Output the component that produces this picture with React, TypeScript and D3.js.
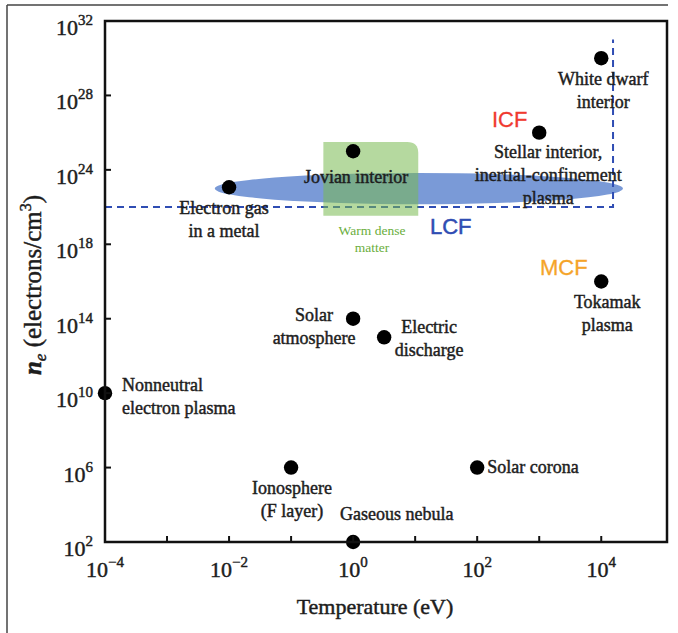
import React from "react";
import * as d3 from "d3";

// ---- data ----
const names = [
  "Electron gas", "Jovian interior", "White dwarf", "Stellar interior", "Tokamak",
  "Solar atmosphere", "Electric discharge", "Nonneutral", "Ionosphere", "Solar corona", "Gaseous nebula",
];
const temperatures = [1e-2, 1, 1e4, 1e3, 1e4, 1, Math.pow(10, 0.5), 1e-4, 1e-1, 1e2, 1];
const densityExp = [22.6, 25, 30, 26, 16, 14, 13, 10, 6, 6, 2];
const labelLines = [
  ["Electron gas", "in a metal"],
  ["Jovian interior"],
  ["White dwarf", "interior"],
  ["Stellar interior,", "inertial-confinement", "plasma"],
  ["Tokamak", "plasma"],
  ["Solar", "atmosphere"],
  ["Electric", "discharge"],
  ["Nonneutral", "electron plasma"],
  ["Ionosphere", "(F layer)"],
  ["Solar corona"],
  ["Gaseous nebula"],
];
const xTickExps = [-4, -3, -2, -1, 0, 1, 2, 3, 4];
const xLabelExps = [-4, -2, 0, 2, 4];
const yLabelExps = [2, 6, 10, 14, 18, 24, 28, 32];

// regions
const ellipseT = [Math.pow(10, -2.23), Math.pow(10, 4.35)];
const ellipseNeExp = [21.23, 23.75];
const wdmT = [Math.pow(10, -0.48), Math.pow(10, 1.05)];
const wdmNeExp = [20.3, 25.5];
const lcfT = Math.pow(10, 4.19);
const lcfNeExp = [21, 31];

// ---- layout (label placement relative to dot) ----
const labelLayout = [
  { dx: -5, dy: 27, anchor: "middle" },
  { dx: 3, dy: 32, anchor: "middle" },
  { dx: 2, dy: 27, anchor: "middle" },
  { dx: 9, dy: 25, anchor: "middle" },
  { dx: 6, dy: 26, anchor: "middle" },
  { dx: -39, dy: 2, anchor: "middle" },
  { dx: 45, dy: -4, anchor: "middle" },
  { dx: 17, dy: -2, anchor: "start" },
  { dx: 1, dy: 26, anchor: "middle" },
  { dx: 10, dy: 5, anchor: "start" },
  { dx: -13, dy: -22, anchor: "start" },
];

const W = 678, H = 633;
const L = 105, R = 667, T = 21, B = 542;
const serif = "'Liberation Serif', 'Times New Roman', serif";
const sans = "'Liberation Sans', Arial, sans-serif";
const ink = "#1d1d1d";

export default function App() {
  const x = d3.scaleLog().domain([1e-4, Math.pow(10, 5.06)]).range([L, R]);
  const yExp = d3
    .scaleLinear()
    .domain(yLabelExps)
    .range(yLabelExps.map((_, i) => B - (i * (B - T)) / (yLabelExps.length - 1)));

  const ex0 = x(ellipseT[0]), ex1 = x(ellipseT[1]);
  const ey0 = yExp(ellipseNeExp[1]), ey1 = yExp(ellipseNeExp[0]);
  const gx0 = x(wdmT[0]), gx1 = x(wdmT[1]);
  const gy0 = yExp(wdmNeExp[1]), gy1 = yExp(wdmNeExp[0]);
  const rr = 11;
  const greenPath = `M${gx0},${gy1} L${gx0},${gy0} L${gx1 - rr},${gy0} Q${gx1},${gy0} ${gx1},${gy0 + rr} L${gx1},${gy1} Z`;
  const lx = x(lcfT), ly0 = yExp(lcfNeExp[0]), ly1 = yExp(lcfNeExp[1]);

  const lineH = 23;
  const heavy = { stroke: ink, strokeWidth: 0.45 };

  return (
    <svg width={W} height={H} style={{ position: "absolute", left: 0, top: 0, background: "#fff" }}>
      {/* outer frame */}
      <line x1={7} y1={5} x2={7} y2={H} stroke="#444" strokeWidth={1.5} />
      <line x1={7} y1={5} x2={R + 1} y2={5} stroke="#444" strokeWidth={1.5} />

      {/* blue ellipse */}
      <ellipse cx={(ex0 + ex1) / 2} cy={(ey0 + ey1) / 2} rx={(ex1 - ex0) / 2} ry={(ey1 - ey0) / 2} fill="#6f91d4" opacity={0.92} />

      {/* LCF dashed boundary */}
      <path d={`M${L},${ly0} L${lx},${ly0} L${lx},${ly1}`} fill="none" stroke="#2f4db3" strokeWidth={2} strokeDasharray="7 5" />

      {/* warm dense matter box */}
      <path d={greenPath} fill="#78b950" opacity={0.55} />

      {/* region labels */}
      <text x={372} y={235} fontFamily={serif} fontSize={13.5} fill="#6aae3c" textAnchor="middle">Warm dense</text>
      <text x={372} y={252} fontFamily={serif} fontSize={13.5} fill="#6aae3c" textAnchor="middle">matter</text>
      <text x={430} y={234} fontFamily={sans} fontSize={22} fill="#2f4db3" stroke="#2f4db3" strokeWidth={0.5}>LCF</text>
      <text x={492} y={127} fontFamily={sans} fontSize={22} fill="#f03a30" stroke="#f03a30" strokeWidth={0.3}>ICF</text>
      <text x={540} y={275} fontFamily={sans} fontSize={22} fill="#f5a42a" stroke="#f5a42a" strokeWidth={0.3}>MCF</text>

      {/* dots */}
      {names.map((n, i) => (
        <circle key={n} cx={x(temperatures[i])} cy={yExp(densityExp[i])} r={7.2} fill="#000" />
      ))}

      {/* point labels */}
      {names.map((n, i) => {
        const px = x(temperatures[i]) + labelLayout[i].dx;
        const py = yExp(densityExp[i]) + labelLayout[i].dy;
        return (
          <text key={n} x={px} y={py} fontFamily={serif} fontSize={18} fill={ink} {...heavy} textAnchor={labelLayout[i].anchor as any}>
            {labelLines[i].map((s, j) => (
              <tspan key={j} x={px} dy={j === 0 ? 0 : lineH}>{s}</tspan>
            ))}
          </text>
        );
      })}

      {/* plot box */}
      <rect x={L} y={T} width={R - L} height={B - T} fill="none" stroke="#111" strokeWidth={2.5} />

      {/* x ticks */}
      {xTickExps.slice(1).map((e) => (
        <line key={e} x1={x(Math.pow(10, e))} x2={x(Math.pow(10, e))} y1={B} y2={B - 6} stroke="#111" strokeWidth={2} />
      ))}
      {xLabelExps.map((e) => (
        <text key={e} x={x(Math.pow(10, e))} y={577} fontFamily={serif} fontSize={22} fill={ink} {...heavy} textAnchor="middle">
          10<tspan dy={-10} fontSize={15}>{e < 0 ? `\u2212${-e}` : `${e}`}</tspan>
        </text>
      ))}

      {/* y ticks */}
      {yLabelExps.slice(1, -1).map((e) => (
        <line key={e} x1={L} x2={L + 6} y1={yExp(e)} y2={yExp(e)} stroke="#111" strokeWidth={2} />
      ))}
      {yLabelExps.map((e) => (
        <text key={e} x={93} y={yExp(e) + 14} fontFamily={serif} fontSize={22} fill={ink} {...heavy} textAnchor="end">
          10<tspan dy={-10} fontSize={15}>{`${e}`}</tspan>
        </text>
      ))}

      {/* axis titles */}
      <text x={375} y={614} fontFamily={serif} fontSize={22} fill={ink} {...heavy} textAnchor="middle">Temperature (eV)</text>
      <text transform="translate(41,285) rotate(-90)" fontFamily={serif} fontSize={25} fill={ink} {...heavy} textAnchor="middle">
        <tspan fontStyle="italic" fontWeight="bold">n</tspan>
        <tspan fontStyle="italic" fontSize={17} dy={5}>e</tspan>
        <tspan dy={-5}> (electrons/cm</tspan>
        <tspan fontSize={16} dy={-10}>3</tspan>
        <tspan dy={10}>)</tspan>
      </text>
    </svg>
  );
}
